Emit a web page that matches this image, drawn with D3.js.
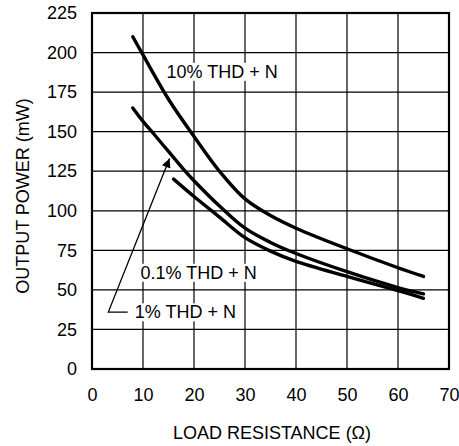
<!DOCTYPE html>
<html>
<head>
<meta charset="utf-8">
<script src="https://cdn.jsdelivr.net/npm/d3@7"></script>
<style>
	body { margin: 0; background: #fff; }
	text { font-family: Arial, "Liberation Sans", sans-serif; fill: #000; }
</style>
</head>
<body>
<div id="chart"></div>
<script>
// curves (load resistance in ohms, output power in mW)
var thd10Load = [8, 10, 15, 20, 25, 30, 35, 40, 50, 60, 65];
var thd10Power = [210, 198.5, 170.5, 147, 125, 107.5, 97, 89, 76, 64, 58.5];
var thd1Load = [8, 10, 12, 15, 18, 20, 25, 30, 35, 40, 50, 60, 65];
var thd1Power = [165, 156.5, 149, 137.5, 126, 119, 103, 89, 80, 73, 61.5, 51.5, 47.5];
var thd01Load = [16, 20, 25, 30, 35, 40, 50, 60, 65];
var thd01Power = [120, 109, 96, 83, 74.5, 68, 58.5, 49.5, 44.7];

var xTicks = [0, 10, 20, 30, 40, 50, 60, 70];
var yTicks = [0, 25, 50, 75, 100, 125, 150, 175, 200, 225];

var W = 459, H = 446;
var plotL = 92, plotR = 449, plotT = 13, plotB = 369;
var fontSize = 18;

var svg = d3.select("#chart").append("svg")
	.attr("width", W)
	.attr("height", H);

var x = d3.scaleLinear().domain([0, 70]).range([plotL, plotR]);
var y = d3.scaleLinear().domain([0, 225]).range([plotB, plotT]);

// grid
var grid = svg.append("g").attr("stroke", "#000").attr("stroke-width", 1.2);
grid.selectAll(".vx").data(xTicks.slice(1, -1)).enter().append("line")
	.attr("x1", function(d) { return x(d); })
	.attr("x2", function(d) { return x(d); })
	.attr("y1", plotT)
	.attr("y2", plotB);
grid.selectAll(".hy").data(yTicks.slice(1, -1)).enter().append("line")
	.attr("x1", plotL)
	.attr("x2", plotR)
	.attr("y1", function(d) { return y(d); })
	.attr("y2", function(d) { return y(d); });

// axes (labels only, frame drawn below)
var xAxis = svg.append("g")
	.attr("transform", "translate(0," + plotB + ")")
	.call(d3.axisBottom(x).tickValues(xTicks).tickSize(0).tickPadding(19));
var yAxis = svg.append("g")
	.attr("transform", "translate(" + plotL + ",0)")
	.call(d3.axisLeft(y).tickValues(yTicks).tickSize(0).tickPadding(15));
[xAxis, yAxis].forEach(function(a) {
	a.select(".domain").remove();
	a.selectAll("text")
		.attr("font-size", fontSize)
		.attr("font-family", "Arial, 'Liberation Sans', sans-serif")
		.attr("fill", "#000");
});

svg.append("rect")
	.attr("x", plotL)
	.attr("y", plotT)
	.attr("width", plotR - plotL)
	.attr("height", plotB - plotT)
	.attr("fill", "none")
	.attr("stroke", "#000")
	.attr("stroke-width", 2.2);

// labels with white backing over the grid
function label(text, lx, ly) {
	var g = svg.append("g");
	var t = g.append("text")
		.attr("x", x(lx))
		.attr("y", y(ly))
		.attr("dy", "0.35em")
		.attr("font-size", fontSize)
		.text(text);
	var b = t.node().getBBox();
	g.insert("rect", "text")
		.attr("x", b.x - 2)
		.attr("y", b.y + 1)
		.attr("width", b.width + 4)
		.attr("height", b.height - 2)
		.attr("fill", "#fff");
}
label("10% THD + N", 14.6, 188);
label("0.1% THD + N", 9.5, 61);
label("1% THD + N", 8.4, 36);

// curves
var line = d3.line()
	.x(function(d) { return x(d[0]); })
	.y(function(d) { return y(d[1]); })
	.curve(d3.curveCatmullRom.alpha(0.5));

[[thd10Load, thd10Power], [thd1Load, thd1Power], [thd01Load, thd01Power]].forEach(function(s) {
	svg.append("path")
		.datum(d3.zip(s[0], s[1]))
		.attr("fill", "none")
		.attr("stroke", "#000")
		.attr("stroke-width", 3.4)
		.attr("stroke-linecap", "round")
		.attr("d", line);
});

// leader arrow for the 1% curve
svg.append("defs").append("marker")
	.attr("id", "head")
	.attr("viewBox", "0 0 10 10")
	.attr("refX", 10)
	.attr("refY", 5)
	.attr("markerWidth", 12)
	.attr("markerHeight", 9)
	.attr("markerUnits", "userSpaceOnUse")
	.attr("orient", "auto")
	.append("path")
	.attr("d", "M0,0L10,5L0,10Z")
	.attr("fill", "#000");

svg.append("path")
	.attr("d", "M" + x(7.0) + "," + y(36) + "L" + x(3.2) + "," + y(36) + "L" + x(15.2) + "," + y(133))
	.attr("fill", "none")
	.attr("stroke", "#000")
	.attr("stroke-width", 1.3)
	.attr("marker-end", "url(#head)");

// axis titles
svg.append("text")
	.attr("x", 272)
	.attr("y", 439)
	.attr("text-anchor", "middle")
	.attr("font-size", fontSize)
	.text("LOAD RESISTANCE (\u03A9)");

svg.append("text")
	.attr("transform", "translate(29,196) rotate(-90)")
	.attr("text-anchor", "middle")
	.attr("font-size", fontSize)
	.text("OUTPUT POWER (mW)");
</script>
</body>
</html>
